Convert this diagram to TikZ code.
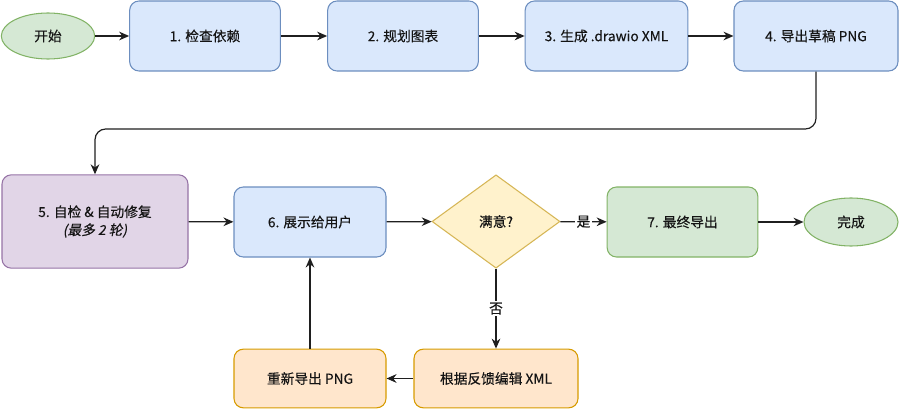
\documentclass[tikz,border=0pt]{standalone}
\usepackage{fontspec}
\setmainfont{Noto Sans CJK SC}[FakeBold=0.25]
\newfontfamily\slantcjk{Noto Sans CJK SC}[FakeSlant=0.2,FakeBold=0.25]
\usetikzlibrary{shapes.geometric,arrows.meta}

\definecolor{blueFill}{HTML}{DAE8FC}
\definecolor{blueLine}{HTML}{6C8EBF}
\definecolor{greenFill}{HTML}{D5E8D4}
\definecolor{greenLine}{HTML}{82B366}
\definecolor{purpleFill}{HTML}{E1D5E7}
\definecolor{purpleLine}{HTML}{9673A6}
\definecolor{yellowFill}{HTML}{FFF2CC}
\definecolor{yellowLine}{HTML}{D6B656}
\definecolor{orangeFill}{HTML}{FFE6CC}
\definecolor{orangeLine}{HTML}{D79B00}

\begin{document}
\begin{tikzpicture}[x=0.75pt,y=-0.75pt,
  font=\fontsize{10.3}{13.5}\selectfont, text=black!92,
  box/.style={draw,rounded corners=7pt,line width=0.8pt,align=center,inner sep=2pt},
  bluebox/.style={box,fill=blueFill,draw=blueLine,minimum width=113pt,minimum height=52.5pt},
  termnode/.style={ellipse,draw=greenLine,fill=greenFill,line width=0.8pt,inner sep=0pt},
  flow/.style={draw=black!88,line width=0.9pt,-{Stealth[length=7.5pt,width=6.5pt]}},
  edgelabel/.style={fill=white,inner sep=1pt,text=black!92}]
\useasboundingbox (0,0) rectangle (900,410);

% Nodes, top row
\node[termnode,minimum width=70pt,minimum height=34.5pt] (start) at (48,36) {开始};
\node[bluebox] (deps) at (205,36) {1. 检查依赖};
\node[bluebox] (plan) at (403,36) {2. 规划图表};
\node[bluebox,minimum width=122pt] (gen) at (606.5,36) {3. 生成 .drawio XML};
\node[bluebox,minimum width=123pt] (draft) at (816,36) {4. 导出草稿 PNG};

% Nodes, middle row
\node[box,fill=purpleFill,draw=purpleLine,minimum width=139.5pt,minimum height=70pt] (check) at (95,221.5)
  {5. 自检 \& 自动修复\\{\slantcjk (最多 2 轮)}};
\node[bluebox,minimum width=114pt] (show) at (310,222) {6. 展示给用户};
\node[diamond,draw=yellowLine,fill=yellowFill,line width=0.8pt,inner sep=0pt,
  minimum width=96pt,minimum height=70pt] (ok) at (496,221.5) {满意?};
\node[box,fill=greenFill,draw=greenLine,minimum width=113pt,minimum height=52.5pt] (final) at (682.5,222) {7. 最终导出};
\node[termnode,minimum width=70.5pt,minimum height=36pt] (done) at (851,222) {完成};

% Nodes, bottom row
\node[box,fill=orangeFill,draw=orangeLine,minimum width=114pt,minimum height=44pt] (reexport) at (310,378.5) {重新导出 PNG};
\node[box,fill=orangeFill,draw=orangeLine,minimum width=123pt,minimum height=44pt] (edit) at (496,378.5) {根据反馈编辑 XML};

\coordinate (turn) at (95,129);

% Edges
\draw[flow] (start) -- (deps);
\draw[flow] (deps) -- (plan);
\draw[flow] (plan) -- (gen);
\draw[flow] (gen) -- (draft);
\draw[flow,rounded corners=8pt] (draft.south) |- (turn) -- (check.north);
\draw[flow] (check) -- (show);
\draw[flow] (show) -- (ok);
\draw[flow] (ok) -- (final) node[midway,edgelabel] {是};
\draw[flow] (final) -- (done);
\draw[flow] (ok) -- (edit) node[midway,edgelabel] {否};
\draw[flow] (edit) -- (reexport);
\draw[flow] (reexport) -- (show);
\end{tikzpicture}
\end{document}
